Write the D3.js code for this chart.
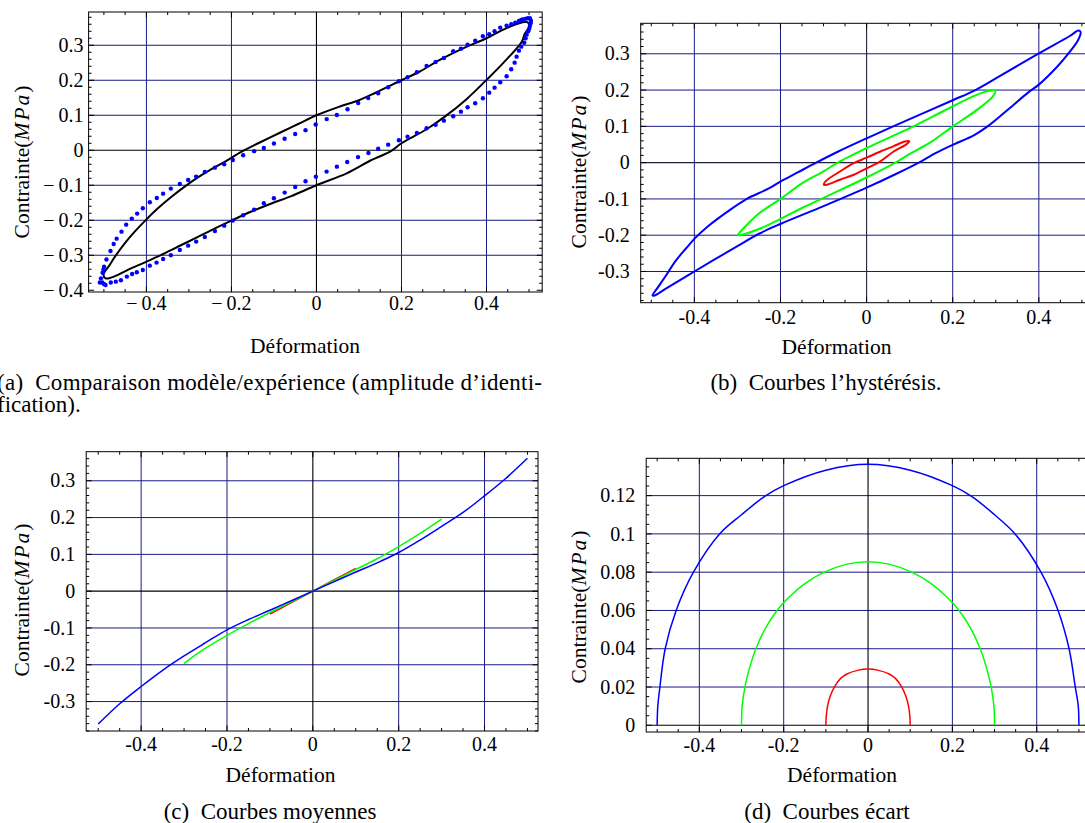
<!DOCTYPE html>
<html><head><meta charset="utf-8">
<script src="https://cdn.jsdelivr.net/npm/d3@7"></script>
<style>body{margin:0;background:#fff;} svg{display:block;}</style>
</head><body>
<svg id="chart" width="1085" height="823" font-family="'Liberation Serif', 'DejaVu Serif', 'Times New Roman', serif"></svg>
<script>
// ---------- tick values ----------
const xTicks = [-0.4, -0.2, 0, 0.2, 0.4];
const yTicksA = [-0.4, -0.3, -0.2, -0.1, 0, 0.1, 0.2, 0.3];
const yTicksBC = [-0.3, -0.2, -0.1, 0, 0.1, 0.2, 0.3];
const yTicksD = [0, 0.02, 0.04, 0.06, 0.08, 0.1, 0.12];

// ---------- (a) experiment (dots) and model (loop) ----------
const expPoints = [
[-0.5096,-0.378],[-0.504,-0.378],[-0.500,-0.382],[-0.507,-0.366],[-0.503,-0.350],[-0.501,-0.340],[-0.4995,-0.333],[-0.494,-0.312],[-0.4845,-0.288],[-0.477,-0.268],[-0.470,-0.2525],[-0.4586,-0.2325],[-0.4477,-0.2125],[-0.4344,-0.1953],[-0.4218,-0.181],[-0.4085,-0.1658],[-0.392,-0.1487],[-0.3755,-0.1363],[-0.3607,-0.124],[-0.3426,-0.1096],[-0.3214,-0.0963],[-0.3018,-0.0849],[-0.283,-0.0753],[-0.2626,-0.062],[-0.239,-0.0497],[-0.217,-0.040],[-0.1967,-0.028],[-0.1725,-0.0143],[-0.1466,-0.0025],[-0.1238,0.0066],[-0.1,0.0195],[-0.075,0.0327],[-0.050,0.0466],[-0.0257,0.0575],[-0.0018,0.0737],[0.0241,0.089],[0.048,0.1008],[0.0731,0.117],[0.0982,0.135],[0.1217,0.149],[0.1452,0.163],[0.1687,0.18],[0.1939,0.197],[0.2143,0.2086],[0.2362,0.2229],[0.259,0.241],[0.2802,0.2523],[0.2998,0.2637],[0.3217,0.2829],[0.3398,0.2903],[0.3555,0.3017],[0.3734,0.3131],[0.3915,0.3257],[0.4064,0.3314],[0.419,0.34],[0.4323,0.3503],[0.4473,0.356],[0.4581,0.36],[0.4675,0.3646],[0.4762,0.3694],[0.4817,0.3723],[0.485,0.374],[0.491,0.3754],[0.4967,0.3771],[0.502,0.3771],[0.5045,0.370],[0.5038,0.3629],[0.502,0.3551],[0.5005,0.3474],[0.498,0.340],[0.4944,0.3303],[0.492,0.32],[0.4887,0.3073],
[0.4817,0.296],[0.4762,0.2846],[0.4708,0.2674],[0.4661,0.2503],[0.4581,0.2314],[0.4473,0.2114],[0.4323,0.1943],[0.419,0.1789],[0.4064,0.1646],[0.3915,0.1486],[0.3734,0.1343],[0.3555,0.1229],[0.3398,0.1103],[0.3217,0.0971],[0.2998,0.0846],[0.2802,0.0727],[0.259,0.0629],[0.2362,0.0494],[0.2143,0.0389],[0.1939,0.0286],[0.1687,0.016],[0.1452,0.0042],[0.1222,-0.008],[0.0978,-0.0195],[0.0723,-0.0334],[0.048,-0.0469],[0.0238,-0.061],[-0.0014,-0.0754],[-0.0257,-0.0886],[-0.050,-0.1049],[-0.0748,-0.121],[-0.1002,-0.137],[-0.1238,-0.1514],[-0.1466,-0.1697],[-0.1725,-0.1857],[-0.1967,-0.201],[-0.217,-0.2154],[-0.239,-0.2306],[-0.2626,-0.2477],[-0.283,-0.261],[-0.3018,-0.2726],[-0.3214,-0.2849],[-0.3426,-0.300],[-0.3607,-0.3106],[-0.3762,-0.321],[-0.392,-0.3297],[-0.4085,-0.342],[-0.4226,-0.3486],[-0.4336,-0.3534],[-0.446,-0.361],[-0.460,-0.3715],[-0.472,-0.3754],[-0.4838,-0.378],[-0.4963,-0.385]
];
const modelLoop = [
[-0.496,-0.366],[-0.501,-0.356],[-0.497,-0.345],[-0.490,-0.334],[-0.474,-0.304],[-0.451,-0.266],[-0.427,-0.232],[-0.401,-0.199],[-0.373,-0.166],[-0.341,-0.133],[-0.31,-0.104],[-0.278,-0.077],[-0.247,-0.054],[-0.216,-0.033],[-0.176,-0.004],[-0.137,0.02],[-0.086,0.05],[-0.043,0.075],[0,0.1],[0.055,0.125],[0.1,0.143],[0.14,0.165],[0.2,0.2],[0.243,0.225],[0.29,0.258],[0.345,0.291],[0.4,0.32],[0.447,0.349],[0.483,0.365],[0.496,0.366],[0.501,0.356],[0.497,0.345],[0.49,0.333],[0.483,0.31],[0.439,0.249],[0.4,0.201],[0.353,0.146],[0.302,0.096],[0.259,0.06],[0.2,0.02],[0.177,-0.001],[0.141,-0.022],[0.126,-0.03],[0.071,-0.066],[0,-0.1],[-0.059,-0.131],[-0.106,-0.152],[-0.153,-0.175],[-0.2,-0.201],[-0.247,-0.228],[-0.286,-0.252],[-0.325,-0.275],[-0.365,-0.299],[-0.401,-0.319],[-0.435,-0.337],[-0.467,-0.356],[-0.486,-0.365]
];

// ---------- (b) hysteresis loops ----------
const hystBlue = [
[-0.497,-0.366],[-0.483,-0.341],[-0.467,-0.313],[-0.443,-0.27],[-0.419,-0.236],[-0.4,-0.21],[-0.371,-0.178],[-0.323,-0.135],[-0.28,-0.101],[-0.227,-0.071],[-0.2,-0.052],[-0.16,-0.027],[-0.125,-0.005],[-0.067,0.03],[0,0.067],[0.1,0.12],[0.2,0.172],[0.249,0.198],[0.3,0.232],[0.4,0.301],[0.472,0.349],[0.492,0.364],[0.497,0.36],[0.49,0.335],[0.468,0.3],[0.443,0.265],[0.4,0.215],[0.377,0.195],[0.33,0.148],[0.281,0.1],[0.25,0.076],[0.2,0.049],[0.16,0.026],[0.129,0.005],[0.067,-0.032],[0,-0.069],[-0.1,-0.12],[-0.2,-0.169],[-0.25,-0.196],[-0.3,-0.23],[-0.4,-0.3],[-0.47,-0.35],[-0.492,-0.366]
];
const hystGreen = [
[-0.299,-0.2],[-0.285,-0.18],[-0.25,-0.14],[-0.2,-0.1],[-0.15,-0.057],[-0.1,-0.024],[-0.067,0],[0,0.04],[0.1,0.095],[0.15,0.125],[0.2,0.155],[0.25,0.184],[0.285,0.198],[0.299,0.198],[0.293,0.182],[0.25,0.14],[0.2,0.1],[0.15,0.057],[0.1,0.024],[0.067,0],[0,-0.041],[-0.1,-0.097],[-0.15,-0.125],[-0.2,-0.155],[-0.25,-0.183],[-0.287,-0.198]
];
const hystRed = [
[-0.0992,-0.061],[-0.093,-0.049],[-0.062,-0.0245],[-0.031,-0.002],[0,0.0136],[0.031,0.03],[0.062,0.045],[0.089,0.058],[0.0992,0.059],[0.093,0.051],[0.062,0.03],[0.031,0.003],[0,-0.016],[-0.031,-0.034],[-0.062,-0.047],[-0.093,-0.061]
];

// ---------- (c) mean curves ----------
const meanBlue = [[-0.5,-0.361],[-0.45,-0.306],[-0.4,-0.259],[-0.35,-0.215],[-0.3,-0.176],[-0.25,-0.14],[-0.2,-0.105],[-0.15,-0.077],[-0.1,-0.052],[-0.05,-0.026],[0,0],[0.05,0.026],[0.1,0.052],[0.15,0.077],[0.2,0.105],[0.25,0.139],[0.3,0.176],[0.35,0.214],[0.4,0.259],[0.45,0.307],[0.5,0.361]];
const meanGreen = [[-0.3,-0.196],[-0.25,-0.155],[-0.2,-0.12],[-0.15,-0.088],[-0.1,-0.058],[-0.05,-0.029],[0,0],[0.05,0.029],[0.1,0.059],[0.15,0.088],[0.2,0.121],[0.25,0.157],[0.3,0.196]];
const meanRed = [[-0.1,-0.062],[-0.05,-0.031],[0,0],[0.05,0.031],[0.1,0.062]];

// ---------- (d) deviation curves ----------
const ecartBlue = [[-0.5,0],[-0.4985,0.01],[-0.4935,0.02],[-0.481,0.04],[-0.455,0.06],[-0.414,0.08],[-0.352,0.1],[-0.3,0.11],[-0.246,0.1195],[-0.2,0.1252],[-0.1,0.1333],[0,0.1364],[0.1,0.1333],[0.2,0.1252],[0.2465,0.1195],[0.3,0.11],[0.3486,0.1],[0.41,0.08],[0.4506,0.06],[0.4767,0.04],[0.4914,0.02],[0.4985,0.01],[0.5,0]];
const ecartGreen = [[-0.3,0],[-0.2985,0.01],[-0.292,0.02],[-0.281,0.03],[-0.266,0.04],[-0.245,0.05],[-0.216,0.06],[-0.187,0.067],[-0.148,0.0743],[-0.106,0.0798],[-0.05,0.0842],[0,0.0855],[0.05,0.0842],[0.106,0.0798],[0.148,0.0743],[0.187,0.067],[0.216,0.06],[0.245,0.05],[0.266,0.04],[0.281,0.03],[0.292,0.02],[0.2985,0.01],[0.3,0]];
const ecartRed = [[-0.1,0],[-0.099,0.005],[-0.096,0.01],[-0.09,0.015],[-0.08,0.02],[-0.065,0.0245],[-0.05,0.0268],[-0.025,0.0287],[0,0.0294],[0.025,0.0287],[0.05,0.0268],[0.065,0.0245],[0.08,0.02],[0.09,0.015],[0.096,0.01],[0.099,0.005],[0.1,0]];

const BLUE = "#0000ff", GREEN = "#00ff00", RED = "#ff0000";
const svg = d3.select("#chart");
const fmtMath = d => d < 0 ? "\u2212\u2009" + String(Math.abs(d)) : String(d);
const fmtPlain = d => String(d);

function minorValues(dom, step) {
  const out = [];
  const k0 = Math.ceil(dom[0] / step - 1e-9), k1 = Math.floor(dom[1] / step + 1e-9);
  for (let k = k0; k <= k1; k++) out.push(+(k * step).toFixed(6));
  return out;
}

let clipId = 0;
function panel(cfg) {
  const x = d3.scaleLinear().domain(cfg.xd).range([cfg.l, cfg.r]);
  const y = d3.scaleLinear().domain(cfg.yd).range([cfg.b, cfg.t]);
  const g = svg.append("g");
  const id = "clip" + (clipId++);
  svg.append("clipPath").attr("id", id).append("rect")
    .attr("x", cfg.l).attr("y", cfg.t).attr("width", cfg.r - cfg.l).attr("height", cfg.b - cfg.t);
  const grid = g.append("g").attr("clip-path", `url(#${id})`);
  const farX = v => Math.abs(x(v) - cfg.l) > 3 && Math.abs(x(v) - cfg.r) > 3;
  const farY = v => Math.abs(y(v) - cfg.t) > 3 && Math.abs(y(v) - cfg.b) > 3;
  grid.selectAll(".gx").data(cfg.xTicks.filter(v => v !== 0 && farX(v))).join("line")
    .attr("x1", d => x(d)).attr("x2", d => x(d)).attr("y1", cfg.t).attr("y2", cfg.b)
    .attr("stroke", "#1a1a88").attr("stroke-width", 1);
  grid.selectAll(".gy").data(cfg.yTicks.filter(v => v !== 0 && farY(v))).join("line")
    .attr("x1", cfg.l).attr("x2", cfg.r).attr("y1", d => y(d)).attr("y2", d => y(d))
    .attr("stroke", "#1a1a88").attr("stroke-width", 1);
  if (cfg.xd[0] < 0 && cfg.xd[1] > 0)
    grid.append("line").attr("x1", x(0)).attr("x2", x(0)).attr("y1", cfg.t).attr("y2", cfg.b)
      .attr("stroke", cfg.axisColor).attr("stroke-width", 1.1);
  if (cfg.yd[0] < 0 && cfg.yd[1] > 0)
    grid.append("line").attr("x1", cfg.l).attr("x2", cfg.r).attr("y1", y(0)).attr("y2", y(0))
      .attr("stroke", cfg.axisColor).attr("stroke-width", 1.1);
  const plot = g.append("g").attr("clip-path", `url(#${id})`);
  cfg.draw(plot, x, y);
  g.append("rect").attr("x", cfg.l).attr("y", cfg.t).attr("width", cfg.r - cfg.l).attr("height", cfg.b - cfg.t)
    .attr("fill", "none").attr("stroke", "#000").attr("stroke-width", 1);
  const tk = g.append("g").attr("stroke", "#000").attr("stroke-width", 1);
  const xm = minorValues(cfg.xd, cfg.xMinor), ym = minorValues(cfg.yd, cfg.yMinor);
  const isMajorX = v => cfg.xTicks.some(t => Math.abs(t - v) < 1e-6);
  const isMajorY = v => cfg.yTicks.some(t => Math.abs(t - v) < 1e-6);
  xm.forEach(v => {
    const len = isMajorX(v) ? 5.5 : 3;
    tk.append("line").attr("x1", x(v)).attr("x2", x(v)).attr("y1", cfg.b).attr("y2", cfg.b - len);
    tk.append("line").attr("x1", x(v)).attr("x2", x(v)).attr("y1", cfg.t).attr("y2", cfg.t + len);
  });
  ym.forEach(v => {
    const len = isMajorY(v) ? 5.5 : 3;
    tk.append("line").attr("x1", cfg.l).attr("x2", cfg.l + len).attr("y1", y(v)).attr("y2", y(v));
    tk.append("line").attr("x1", cfg.r).attr("x2", cfg.r - len).attr("y1", y(v)).attr("y2", y(v));
  });
  g.selectAll(".xl").data(cfg.xTicks).join("text")
    .attr("x", d => x(d)).attr("y", cfg.b + cfg.xLabDy).attr("text-anchor", "middle")
    .attr("font-size", cfg.tickFont).text(cfg.fmt);
  g.selectAll(".yl").data(cfg.yTicks).join("text")
    .attr("x", cfg.l - cfg.yLabGap).attr("y", d => y(d)).attr("dy", "0.33em").attr("text-anchor", "end")
    .attr("font-size", cfg.tickFont).text(cfg.fmt);
  g.append("text").attr("x", cfg.xTitle[0]).attr("y", cfg.xTitle[1]).attr("text-anchor", "middle")
    .attr("font-size", 21.5).text("Déformation");
  const yt = g.append("text").attr("text-anchor", "middle").attr("font-size", 21.5)
    .attr("transform", `translate(${cfg.yTitle[0]},${cfg.yTitle[1]}) rotate(-90)`).attr("dy", "0.35em");
  yt.append("tspan").text("Contrainte(");
  yt.append("tspan").attr("font-style", "italic").attr("letter-spacing", "2").text("MPa");
  yt.append("tspan").text(")");
}

const loopLine = (x, y) => d3.line().x(d => x(d[0])).y(d => y(d[1])).curve(d3.curveCatmullRomClosed.alpha(0.5));
const openLine = (x, y) => d3.line().x(d => x(d[0])).y(d => y(d[1])).curve(d3.curveCatmullRom.alpha(0.5));

// (a)
panel({
  l: 88.6, r: 542.2, t: 12, b: 292, xd: [-0.536, 0.531], yd: [-0.405, 0.395],
  xTicks, yTicks: yTicksA, xMinor: 0.05, yMinor: 0.02, fmt: fmtMath, tickFont: 20,
  yLabGap: 5, xLabDy: 18, xTitle: [305, 353], yTitle: [21, 162], axisColor: "#000",
  draw: (p, x, y) => {
    p.append("path").datum(modelLoop).attr("d", loopLine(x, y)).attr("fill", "none")
      .attr("stroke", "#000").attr("stroke-width", 2);
    p.selectAll("circle").data(expPoints).join("circle")
      .attr("cx", d => x(d[0])).attr("cy", d => y(d[1])).attr("r", 2.2).attr("fill", BLUE);
  }
});
// (b)
panel({
  l: 640.7, r: 1093, t: 23.3, b: 302.7, xd: [-0.5246, 0.5258], yd: [-0.386, 0.384],
  xTicks, yTicks: yTicksBC, xMinor: 0.05, yMinor: 0.02, fmt: fmtPlain, tickFont: 20,
  yLabGap: 11, xLabDy: 21, xTitle: [836.5, 354], yTitle: [578, 172], axisColor: "#202040",
  draw: (p, x, y) => {
    [[hystBlue, BLUE], [hystGreen, GREEN], [hystRed, RED]].forEach(([d, c]) =>
      p.append("path").datum(d).attr("d", loopLine(x, y)).attr("fill", "none")
        .attr("stroke", c).attr("stroke-width", 2));
  }
});
// (c)
panel({
  l: 86.2, r: 538, t: 451.7, b: 731, xd: [-0.528, 0.5246], yd: [-0.380, 0.379],
  xTicks, yTicks: yTicksBC, xMinor: 0.05, yMinor: 0.02, fmt: fmtPlain, tickFont: 20,
  yLabGap: 11, xLabDy: 20, xTitle: [280.5, 782], yTitle: [21.5, 600], axisColor: "#000",
  draw: (p, x, y) => {
    [[meanRed, RED], [meanGreen, GREEN], [meanBlue, BLUE]].forEach(([d, c]) =>
      p.append("path").datum(d).attr("d", openLine(x, y)).attr("fill", "none")
        .attr("stroke", c).attr("stroke-width", 1.5));
  }
});
// (d)
panel({
  l: 646.2, r: 1090, t: 458.3, b: 732, xd: [-0.526, 0.5263], yd: [-0.0035, 0.1395],
  xTicks, yTicks: yTicksD, xMinor: 0.05, yMinor: 0.005, fmt: fmtPlain, tickFont: 20,
  yLabGap: 11, xLabDy: 20, xTitle: [842, 782], yTitle: [578, 607], axisColor: "#000",
  draw: (p, x, y) => {
    [[ecartBlue, BLUE], [ecartGreen, GREEN], [ecartRed, RED]].forEach(([d, c]) =>
      p.append("path").datum(d).attr("d", openLine(x, y)).attr("fill", "none")
        .attr("stroke", c).attr("stroke-width", 1.5));
  }
});

// captions
const cap = svg.append("g").attr("font-size", 23);
cap.append("text").attr("x", -3).attr("y", 390).attr("textLength", 545).attr("lengthAdjust", "spacing")
  .text("(a)\u2002Comparaison modèle/expérience (amplitude d’identi-");
cap.append("text").attr("x", -3).attr("y", 412).text("fication).");
cap.append("text").attr("x", 826).attr("y", 390).attr("text-anchor", "middle").text("(b)\u2002Courbes l’hystérésis.");
cap.append("text").attr("x", 270).attr("y", 819).attr("text-anchor", "middle").text("(c)\u2002Courbes moyennes");
cap.append("text").attr("x", 827).attr("y", 819).attr("text-anchor", "middle").text("(d)\u2002Courbes écart");
</script>
</body></html>
